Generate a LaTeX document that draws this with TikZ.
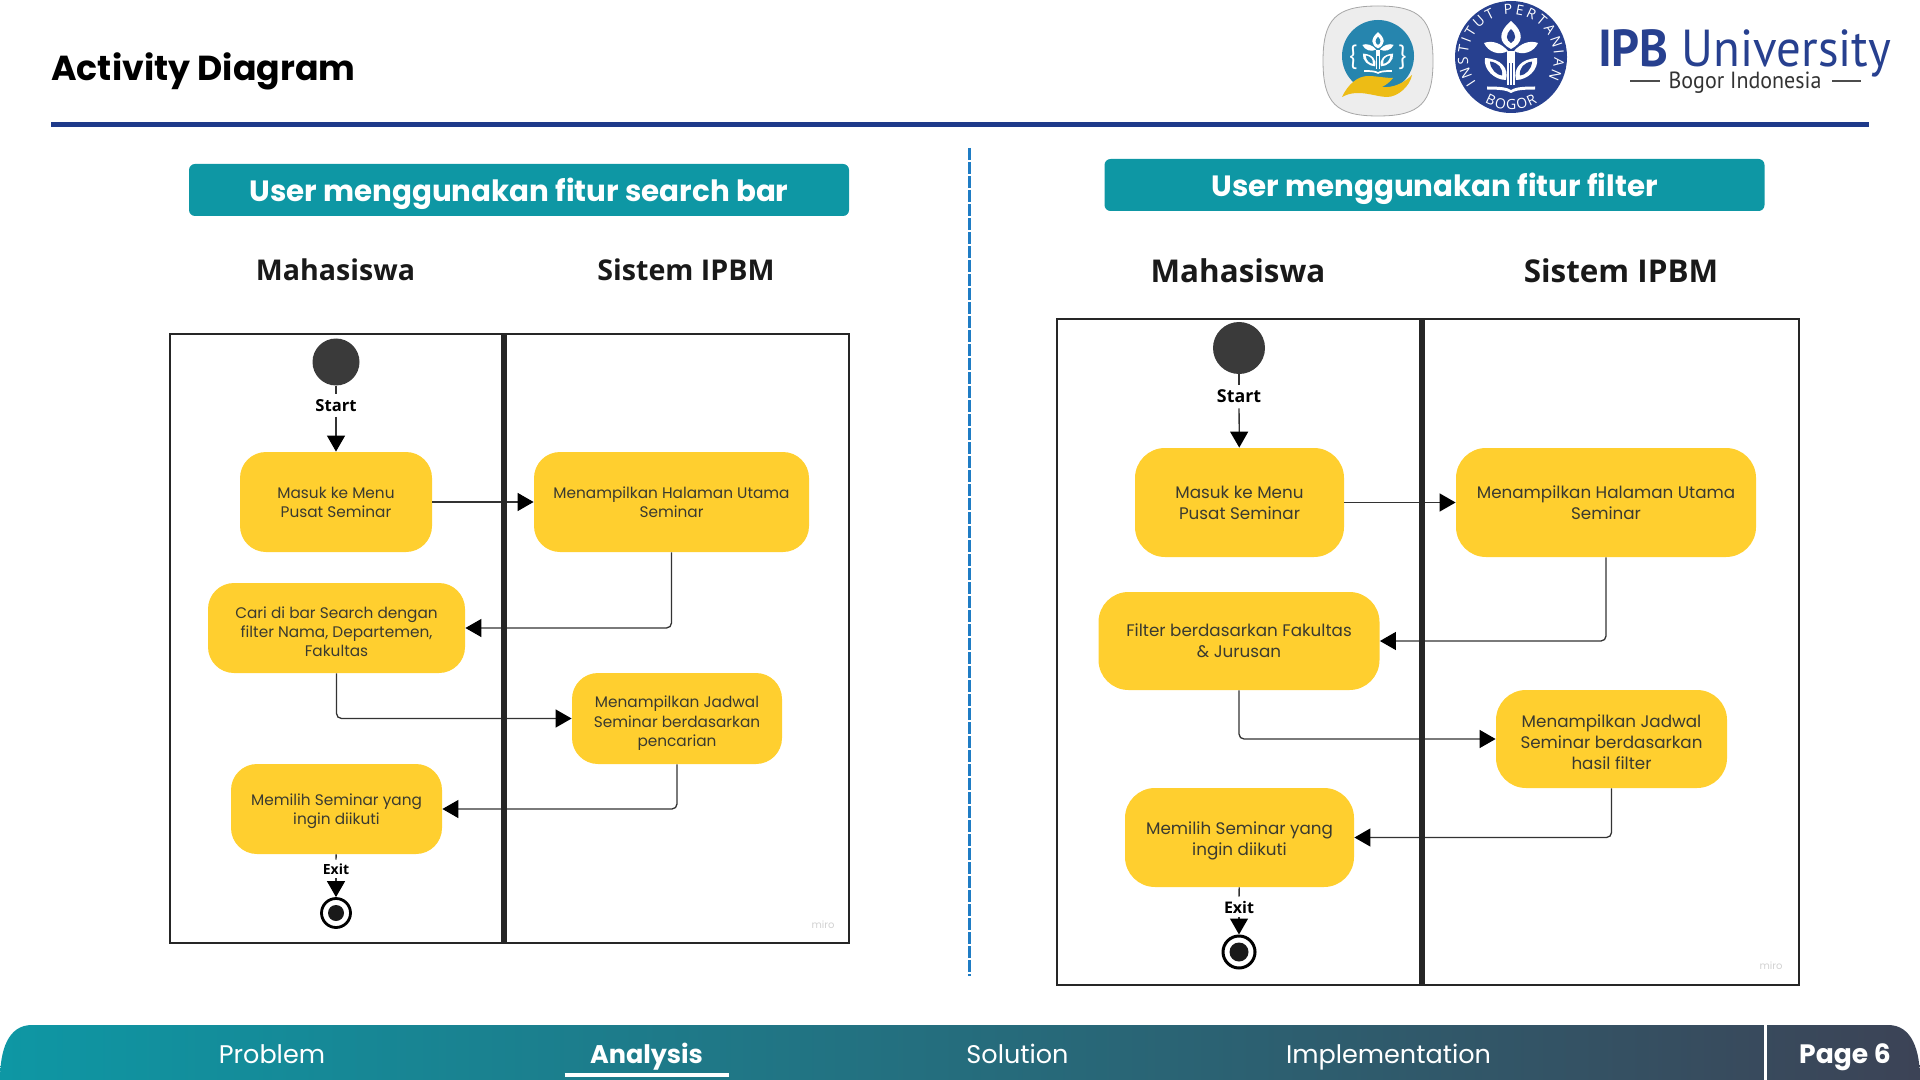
\documentclass[tikz,border=0pt]{standalone}
\usepackage{fontspec}
\setmainfont{Poppins}
\newfontfamily\headfont{Open Sans}
\newfontfamily\logofont[FakeStretch=0.94]{PT Sans}
\usetikzlibrary{arrows.meta, decorations.text}

\definecolor{bandteal}{HTML}{0E97A4}
\definecolor{barslate}{HTML}{3C4356}
\definecolor{ipbblue}{HTML}{27408F}
\definecolor{rulenavy}{HTML}{1E3A8A}
\definecolor{activity}{HTML}{FFCF2F}
\definecolor{dotgrey}{HTML}{3A3A3A}
\definecolor{inkgrey}{HTML}{3A3A30}
\definecolor{handgold}{HTML}{EDBC15}
\definecolor{badgeblue}{HTML}{2685AE}
\definecolor{cutblue}{HTML}{1F7CC4}

\tikzset{
	lane/.style={line width=1.4pt, draw=black!85},
	midlane/.style={line width=2.6pt, draw=black!85},
	actsmall/.style={fill=activity, rounded corners=13pt, inner sep=0pt, align=center, text=inkgrey,
		font=\fontsize{7.66}{9.6}\selectfont},
	actbig/.style={fill=activity, rounded corners=15pt, inner sep=0pt, align=center, text=inkgrey,
		font=\fontsize{8.38}{10.5}\selectfont},
	flow/.style={line width=0.65pt, draw=black!80, rounded corners=2.5pt, arrows={-Triangle[length=8pt, width=9pt, black]}},
	plain/.style={line width=0.65pt, draw=black!80},
	marklabel/.style={inner sep=0pt, font=\headfont\bfseries\fontsize{8.3}{9}\selectfont},
	laneshead/.style={anchor=base, font=\headfont\bfseries\fontsize{14.3}{16}\selectfont, text=black!90},
	band/.style={fill=bandteal, rounded corners=3pt, inner sep=0pt, minimum width=330pt, minimum height=26pt},
	bandtext/.style={anchor=base, text=white, inner sep=0pt, font=\bfseries\fontsize{14.67}{16}\selectfont},
	tab/.style={anchor=base, text=white, font=\fontsize{12.75}{14}\selectfont},
	tabbold/.style={anchor=base, text=white, font=\bfseries\fontsize{12.75}{14}\selectfont},
	miromark/.style={text=black!18, font=\fontsize{5}{6}\selectfont},
}

% pushes the lines of a box down a little
\newcommand{\lowtext}[1]{\rule{0pt}{#1pt}}

\newcommand{\plantmark}[1]{
	\fill[white] (0,36) .. controls (14,24) and (12,14) .. (0,8) .. controls (-12,14) and (-14,24) .. (0,36) -- cycle;
	\fill[#1] (0,28) .. controls (6,22) and (5,17) .. (0,14) .. controls (-5,17) and (-6,22) .. (0,28) -- cycle;
	\foreach \side in {1,-1} {
		\begin{scope}[xscale=\side]
			\fill[white] (3,6) .. controls (10,14) and (19,17) .. (27,14) .. controls (23,5) and (12,1) .. (3,6) -- cycle;
			\fill[white] (26,-1) .. controls (28,-13) and (16,-23) .. (5,-23) .. controls (2,-11) and (10,-2) .. (26,-1) -- cycle;
			\fill[#1] (21,-4.5) .. controls (21,-12) and (14,-18.5) .. (9,-18.5) .. controls (8,-11) and (13,-5.5) .. (21,-4.5) -- cycle;
		\end{scope}
	}
	\fill[white] (-4,-28) rectangle (4,6);
	\fill[#1] (-1.8,-28) rectangle (-0.8,-6);
	\fill[#1] (0.8,-28) rectangle (1.8,-6);
	\fill[white] (-24,-29.5) .. controls (-10,-29.5) and (-4,-30.5) .. (0,-33) .. controls (4,-30.5) and (10,-29.5) .. (24,-29.5)
		-- (24,-32.5) .. controls (10,-32.5) and (4,-33.5) .. (0,-36) .. controls (-4,-33.5) and (-10,-32.5) .. (-24,-32.5) -- cycle;
}

\begin{document}
\begin{tikzpicture}[x=0.5pt, y=-0.5pt]
	\useasboundingbox (0,0) rectangle (1920,1080);

	% header
	\node [anchor=base west, inner sep=0pt, font=\bfseries\fontsize{17.35}{18}\selectfont] (title) at (51,81) {Activity Diagram};
	\draw [line width=2.5pt, rulenavy] (51,124.5) -- (1869,124.5);

	% badge logo
	\begin{scope}[shift={(1378,61)}, x=0.5pt, y=0.5pt]
		\filldraw [fill=black!7, draw=black!35, line width=0.4pt] (0,55) .. controls (42,55) and (55,42) .. (55,0)
			.. controls (55,-42) and (42,-55) .. (0,-55) .. controls (-42,-55) and (-55,-42) .. (-55,0)
			.. controls (-55,42) and (-42,55) .. (0,55) -- cycle;
		\fill [badgeblue] (0,5) circle (36);
		\begin{scope}[shift={(0,8)}, scale=0.58]
			\plantmark{badgeblue}
		\end{scope}
		\node [text=white, font=\fontsize{11}{12}\selectfont] (braceleft) at (-25,4) {\{};
		\node [text=white, font=\fontsize{11}{12}\selectfont] (braceright) at (25,4) {\}};
	\end{scope}
	\fill [handgold] (1342,97) .. controls (1348,84) and (1358,76) .. (1368,76) .. controls (1376,76) and (1385,78) .. (1393,78)
		.. controls (1390,82) and (1386,85) .. (1382,87) .. controls (1392,88) and (1403,84) .. (1412,75)
		.. controls (1410,86) and (1398,97) .. (1387,97) .. controls (1375,97) and (1358,88) .. (1342,97) -- cycle;

	% seal logo
	\begin{scope}[shift={(1511,57)}, x=0.5pt, y=0.5pt]
		\fill [ipbblue] (0,0) circle (56);
		\plantmark{ipbblue}
		\path [decorate, decoration={text along path, text color=white, text align={fit to path},
			text={|\headfont\fontsize{7}{7}\selectfont|INSTITUT PERTANIAN}}] (216:43) arc [start angle=216, end angle=-30, radius=43];
		\path [decorate, decoration={text along path, text color=white, text align={fit to path},
			text={|\headfont\fontsize{7}{7}\selectfont|BOGOR}}] (240:52.5) arc [start angle=240, end angle=300, radius=52.5];
	\end{scope}

	% wordmark
	\node [anchor=base, inner sep=0pt, text=ipbblue, font=\logofont\fontsize{26}{28}\selectfont] (ipbname) at (1744.5,67) {\textbf{IPB} University};
	\node [anchor=base, inner sep=0pt, text=black!80, font=\logofont\fontsize{11.7}{14}\selectfont] (ipbcity) at (1745,89) {Bogor Indonesia};
	\draw [line width=0.7pt, black!70] (1630,81) -- (1660,81);
	\draw [line width=0.7pt, black!70] (1832,81) -- (1861,81);

	% divider
	\draw [line width=1.5pt, cutblue, dash pattern=on 6pt off 1pt] (969,148) -- (969,976);

	% left side
	\node [band] (bandleft) at (519,190) {};
	\node [bandtext] (titleleft) at (519,202) {User menggunakan fitur search bar};
	\node [laneshead] (usera) at (335.5,281) {Mahasiswa};
	\node [laneshead] (sysa) at (686,281) {Sistem IPBM};
	\draw [lane] (170,334) rectangle (849,943);
	\node [circle, fill=dotgrey, minimum size=23.5pt, inner sep=0pt] (starta) at (336,362) {};
	\node [marklabel, minimum height=11pt] (labstarta) at (336,405.5) {Start};
	\node [actsmall, minimum width=96pt, minimum height=50pt] (menua) at (336,502) {Masuk ke Menu\\Pusat Seminar};
	\node [actsmall, minimum width=137.5pt, minimum height=50pt] (homea) at (671.5,502) {Menampilkan Halaman Utama\\Seminar};
	\node [actsmall, minimum width=128.5pt, minimum height=45pt] (searcha) at (336.5,628) {\lowtext{9.3}Cari di bar Search dengan\\filter Nama, Departemen,\\Fakultas};
	\node [actsmall, minimum width=105pt, minimum height=45.5pt] (joba) at (677,718.5) {\lowtext{10.6}Menampilkan Jadwal\\Seminar berdasarkan\\pencarian};
	\node [actsmall, minimum width=105.5pt, minimum height=45pt] (picka) at (336.5,809) {\lowtext{8.1}Memilih Seminar yang\\ingin diikuti};
	\node [marklabel, minimum height=9pt, font=\headfont\bfseries\fontsize{7}{8}\selectfont] (labexita) at (336,869) {Exit};
	\node [circle, draw=black, line width=1.4pt, fill=white, minimum size=14.5pt, inner sep=0pt] (enda) at (336,913) {};
	\node [circle, fill=black!90, minimum size=8pt, inner sep=0pt] (coreenda) at (enda) {};
	\node [miromark] (miroa) at (823,925) {miro};
	\draw [plain] (starta) -- (labstarta);
	\draw [flow] (labstarta) -- (menua);
	\draw [flow] (menua) -- (homea);
	\draw [flow] (homea.south) |- (searcha.east);
	\draw [flow] (searcha.south) |- (joba.west);
	\draw [flow] (joba.south) |- (picka.east);
	\draw [plain] (picka) -- (labexita);
	\draw [flow] (labexita) -- (enda);
	\draw [midlane] (504,334) -- (504,943);

	% right side
	\node [band] (bandright) at (1434.5,185) {};
	\node [bandtext] (titleright) at (1434.5,197) {User menggunakan fitur filter};
	\node [laneshead, font=\headfont\bfseries\fontsize{15.7}{17}\selectfont] (userb) at (1238,283) {Mahasiswa};
	\node [laneshead, font=\headfont\bfseries\fontsize{15.7}{17}\selectfont] (sysb) at (1621,283) {Sistem IPBM};
	\draw [lane] (1057,319) rectangle (1799,985);
	\node [circle, fill=dotgrey, minimum size=26pt, inner sep=0pt] (startb) at (1239,348) {};
	\node [marklabel, minimum height=11.5pt, font=\headfont\bfseries\fontsize{8.9}{10}\selectfont] (labstartb) at (1239,396.5) {Start};
	\node [actbig, minimum width=104.5pt, minimum height=54.5pt] (menub) at (1239.5,502.5) {Masuk ke Menu\\Pusat Seminar};
	\node [actbig, minimum width=150pt, minimum height=54.5pt] (homeb) at (1606,502.5) {Menampilkan Halaman Utama\\Seminar};
	\node [actbig, minimum width=140.5pt, minimum height=49pt] (filterb) at (1239,641) {Filter berdasarkan Fakultas\\\& Jurusan};
	\node [actbig, minimum width=115.5pt, minimum height=49pt] (jobb) at (1611.5,739) {\lowtext{9.8}Menampilkan Jadwal\\Seminar berdasarkan\\hasil filter};
	\node [actbig, minimum width=114.5pt, minimum height=49.5pt] (pickb) at (1239.5,837.5) {\lowtext{9.8}Memilih Seminar yang\\ingin diikuti};
	\node [marklabel, minimum height=10pt, font=\headfont\bfseries\fontsize{8}{9}\selectfont] (labexitb) at (1239,907) {Exit};
	\node [circle, draw=black, line width=1.5pt, fill=white, minimum size=16pt, inner sep=0pt] (endb) at (1239,952) {};
	\node [circle, fill=black!90, minimum size=9.5pt, inner sep=0pt] (coreendb) at (endb) {};
	\node [miromark] (mirob) at (1771,966) {miro};
	\draw [plain] (startb) -- (labstartb);
	\draw [flow] (labstartb) -- (menub);
	\draw [flow] (menub) -- (homeb);
	\draw [flow] (homeb.south) |- (filterb.east);
	\draw [flow] (filterb.south) |- (jobb.west);
	\draw [flow] (jobb.south) |- (pickb.east);
	\draw [plain] (pickb) -- (labexitb);
	\draw [flow] (labexitb) -- (endb);
	\draw [midlane] (1422,319) -- (1422,985);

	% bottom bar
	\shade [left color=bandteal, right color=barslate] (0,1080) .. controls (0,1050) and (8,1025) .. (32,1025) -- (1888,1025)
		.. controls (1912,1025) and (1920,1050) .. (1920,1080) -- cycle;
	\draw [line width=1.5pt, white] (1765,1025) -- (1765,1080);
	\node [tab] (tabproblem) at (272,1063) {Problem};
	\node [tabbold] (tabanalysis) at (646.5,1063) {Analysis};
	\node [tab] (tabsolution) at (1017.5,1063) {Solution};
	\node [tab] (tabimpl) at (1388.5,1063) {Implementation};
	\node [tabbold, font=\bfseries\fontsize{13.3}{14}\selectfont] (tabpage) at (1845,1063) {Page 6};
	\draw [line width=2.2pt, white] (564.5,1075) -- (728.5,1075);
\end{tikzpicture}
\end{document}
